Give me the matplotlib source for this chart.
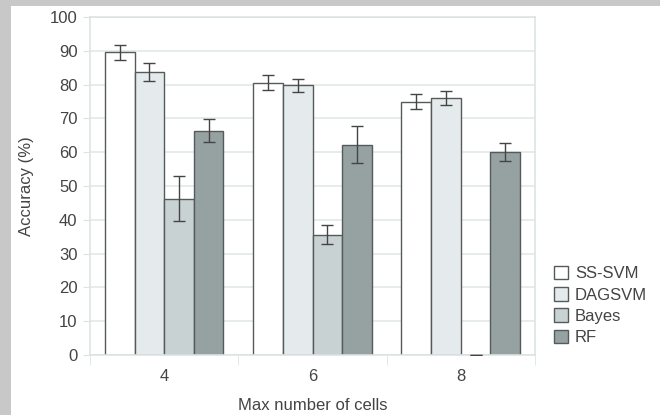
import matplotlib.pyplot as plt
import numpy as np
from matplotlib.patches import Rectangle

categories = ["4", "6", "8"]
series = ["SS-SVM", "DAGSVM", "Bayes", "RF"]
ss_svm = [89.5, 80.6, 74.9]
ss_svm_err = [2.3, 2.2, 2.2]
dagsvm = [83.7, 79.8, 76.0]
dagsvm_err = [2.6, 2.0, 2.0]
bayes = [46.3, 35.6, 0.0]
bayes_err = [6.6, 2.8, 0.0]
rf = [66.4, 62.2, 60.1]
rf_err = [3.3, 5.5, 2.6]

colors = ["#ffffff", "#e5ebed", "#c8d2d2", "#96a2a2"]
edge = "#555a5a"
text_col = "#444444"

plt.rcParams["font.family"] = ["Liberation Sans", "DejaVu Sans"]

W, H = 660, 415
fig = plt.figure(figsize=(W / 100, H / 100), dpi=100)
fig.patch.set_facecolor("white")
# grey frame strips at top and left
fig.add_artist(Rectangle((0, 1 - 6 / H), 1, 6 / H, transform=fig.transFigure,
                         facecolor="#c8c8c8", edgecolor="none", zorder=0))
fig.add_artist(Rectangle((0, 0), 11 / W, 1, transform=fig.transFigure,
                         facecolor="#c8c8c8", edgecolor="none", zorder=0))

left, right, top, bottom = 90, 535, 17, 355
ax = fig.add_axes([left / W, 1 - bottom / H, (right - left) / W, (bottom - top) / H])

x = np.arange(len(categories))
width = 0.2
values = [ss_svm, dagsvm, bayes, rf]
errors = [ss_svm_err, dagsvm_err, bayes_err, rf_err]
for i, (vals, errs) in enumerate(zip(values, errors)):
    pos = x + (i - 1.5) * width
    ax.bar(pos, vals, width, color=colors[i], edgecolor=edge, linewidth=1.0,
           label=series[i], zorder=2)
    ax.errorbar(pos, vals, yerr=errs, fmt="none", ecolor="#444444",
                elinewidth=1.0, capsize=4, capthick=1.0, zorder=3)

ax.set_xlim(-0.5, len(categories) - 0.5)
ax.set_ylim(0, 100)
ax.set_yticks(np.arange(0, 101, 10))
ax.set_xticks(x)
ax.set_xticklabels(categories)
ax.set_xticks(np.arange(-0.5, len(categories), 1), minor=True)
ax.tick_params(axis="x", which="major", length=0, pad=10, labelsize=12, colors=text_col)
ax.tick_params(axis="x", which="minor", length=7, color="#dde3e3")
ax.tick_params(axis="y", length=5, color="#dde3e3", labelsize=12, colors=text_col, pad=4)
ax.grid(axis="y", color="#e2e7e7", linewidth=1.2, zorder=0)
ax.set_axisbelow(True)
for s in ax.spines.values():
    s.set_color("#dde3e3")
    s.set_linewidth(1.2)

ax.set_ylabel("Accuracy (%)", color=text_col, fontsize=12)
ax.set_xlabel("Max number of cells", color=text_col, fontsize=12)
ax.yaxis.set_label_coords(-0.142, 0.5)
ax.xaxis.set_label_coords(0.5, -0.148)
ax.xaxis.label.set_va("center")
ax.yaxis.label.set_va("center")

leg = fig.legend(loc="upper left", bbox_to_anchor=(554 / W, 1 - 266 / H),
                 frameon=False, fontsize=12, handlelength=0.85, handleheight=0.85,
                 handletextpad=0.4, labelspacing=0.35, borderaxespad=0,
                 borderpad=0)
for t in leg.get_texts():
    t.set_color(text_col)

fig.savefig("out.png", dpi=100, facecolor=fig.get_facecolor())
